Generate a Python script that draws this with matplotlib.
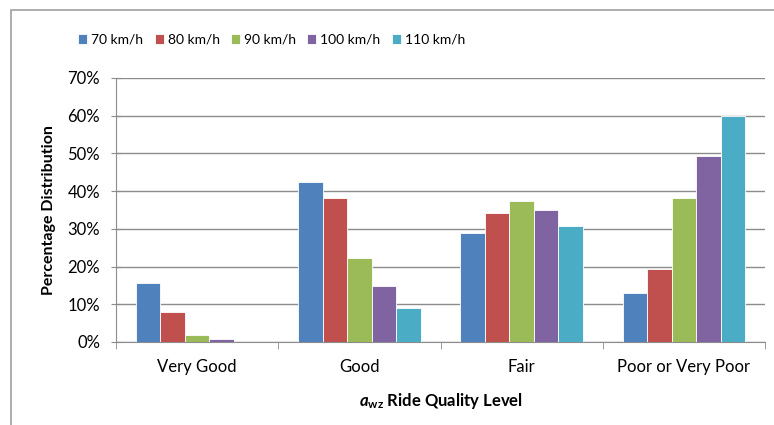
import matplotlib.pyplot as plt
import matplotlib.patches as patches
import numpy as np

# Data (percent)
categories = ["Very Good", "Good", "Fair", "Poor or Very Poor"]
speeds = ["70 km/h", "80 km/h", "90 km/h", "100 km/h", "110 km/h"]
v70 = [15.6, 42.4, 28.9, 12.9]
v80 = [8.0, 38.2, 34.2, 19.4]
v90 = [1.9, 22.3, 37.5, 38.3]
v100 = [0.7, 14.9, 35.0, 49.3]
v110 = [0.0, 9.0, 30.8, 60.0]
series = [v70, v80, v90, v100, v110]
colors = ["#4F81BD", "#C0504D", "#9BBB59", "#8064A2", "#4BACC6"]
yticks = [0, 10, 20, 30, 40, 50, 60, 70]

plt.rcParams["font.family"] = ["Lato", "DejaVu Sans"]
plt.rcParams["mathtext.fontset"] = "custom"
plt.rcParams["mathtext.it"] = "Lato:italic:bold"
plt.rcParams["mathtext.bf"] = "Lato:bold"
plt.rcParams["mathtext.rm"] = "Lato:bold"

fig = plt.figure(figsize=(7.74, 4.25), dpi=100)
ax = fig.add_axes([0.1499, 0.1953, 0.8385, 0.6212])

# outer chart border
fig.add_artist(patches.Rectangle((11 / 774, -0.1), 1.1, 1 - 10 / 425 + 0.1,
                                 transform=fig.transFigure, fill=False,
                                 edgecolor="#A0A0A0", linewidth=1.2))

x = np.arange(len(categories))
width = 0.151
for i, (vals, c, lab) in enumerate(zip(series, colors, speeds)):
    ax.bar(x + (i - 2) * width, vals, width, color=c, label=lab,
           edgecolor="white", linewidth=0.6, zorder=3)

ax.set_xlim(-0.5, len(categories) - 0.5)
ax.set_ylim(0, 70)
ax.set_yticks(yticks)
ax.set_yticklabels([f"{t}%" for t in yticks], fontsize=12)
ax.yaxis.grid(True, color="#8C8C8C", linewidth=1.0, zorder=0)
ax.set_axisbelow(True)

ax.set_xticks(x)
ax.set_xticklabels(categories, fontsize=12)
ax.tick_params(axis="x", length=0, pad=12)
ax.set_xticks(np.arange(len(categories) + 1) - 0.5, minor=True)
ax.tick_params(axis="x", which="minor", length=5, color="#8C8C8C", direction="out")
ax.tick_params(axis="y", length=7, color="#8C8C8C", direction="inout", pad=8)

for s in ["top", "right"]:
    ax.spines[s].set_visible(False)
for s in ["left", "bottom"]:
    ax.spines[s].set_color("#8C8C8C")

ax.set_ylabel("Percentage Distribution", fontsize=11.5, fontweight="bold", labelpad=8)
ax.set_xlabel(r"$a_{\mathbf{wz}}$ Ride Quality Level", fontsize=12,
              fontweight="bold", labelpad=12)

fig.legend(loc="center", bbox_to_anchor=(0.351, 0.906), ncol=5, frameon=False,
           fontsize=10, handlelength=0.65, handleheight=0.65, handletextpad=0.3,
           columnspacing=0.8)

fig.savefig("out.png", dpi=100)
